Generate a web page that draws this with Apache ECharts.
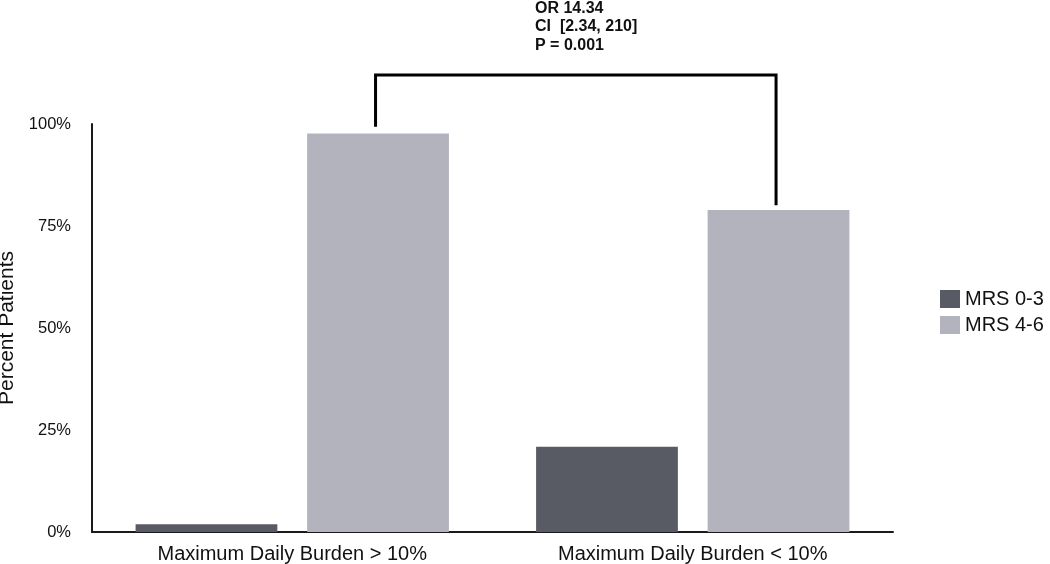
<!DOCTYPE html>
<html>
<head>
<meta charset="utf-8">
<script src="https://cdn.jsdelivr.net/npm/echarts@6/dist/echarts.min.js"></script>
<style>html,body{margin:0;padding:0;background:#fff;}#c{width:1050px;height:564px;}</style>
</head>
<body>
<div id="c"></div>
<script>
const categories = ['Maximum Daily Burden > 10%', 'Maximum Daily Burden < 10%'];
const seriesNames = ['MRS 0-3', 'MRS 4-6'];
const mrs03 = [1.9, 20.9];
const mrs46 = [97.7, 78.9];
const yTicks = [0, 25, 50, 75, 100];
const bracketEnds = [99.3, 80.1];
const bracketTop = 112;
const annotationLines = ['OR 14.34', 'CI  [2.34, 210]', 'P = 0.001'];

const font = '"Liberation Sans", Arial, Helvetica, sans-serif';
const chart = echarts.init(document.getElementById('c'), null, {renderer: 'canvas'});
const option = {
  animation: false,
  backgroundColor: '#fff',
  textStyle: {fontFamily: font},
  grid: {left: 92, right: 157, top: 124, bottom: 32, containLabel: false, outerBoundsMode: 'none'},
  legend: {
    orient: 'vertical', left: 940, top: 289, padding: 0,
    icon: 'rect', itemWidth: 20, itemHeight: 18, itemGap: 6,
    textStyle: {fontSize: 20, color: '#111', fontFamily: font},
    data: seriesNames
  },
  xAxis: {
    type: 'category', data: categories,
    axisLine: {lineStyle: {color: '#1a1a1a', width: 2}},
    axisTick: {show: false},
    axisLabel: {fontSize: 20, color: '#111', margin: 12, fontFamily: font}
  },
  yAxis: {
    type: 'value', min: 0, max: 100, interval: 25,
    name: 'Percent Patients', nameLocation: 'middle', nameGap: 73,
    nameTextStyle: {fontSize: 21, color: '#111', fontFamily: font},
    axisLine: {show: true, lineStyle: {color: '#1a1a1a', width: 2}},
    axisTick: {show: false},
    splitLine: {show: false},
    axisLabel: {fontSize: 16.5, color: '#111', margin: 21, fontFamily: font,
      formatter: v => yTicks.includes(v) ? v + '%' : ''}
  },
  series: [
    {name: seriesNames[0], type: 'bar', data: mrs03, barWidth: '35.4%', barGap: '21%',
     itemStyle: {color: '#585b63'}},
    {name: seriesNames[1], type: 'bar', data: mrs46, barWidth: '35.4%', barGap: '21%',
     itemStyle: {color: '#b3b3bd'}},
    {type: 'custom', silent: true, clip: false, z: 5,
     data: [[0, bracketEnds[0], 1, bracketEnds[1], bracketTop]],
     renderItem: function (params, api) {
       const band = api.size([1, 0])[0];
       const off = band * 0.208;
       const p1 = api.coord([api.value(0), api.value(1)]);
       const p2 = api.coord([api.value(2), api.value(3)]);
       const top = api.coord([api.value(0), api.value(4)])[1];
       return {
         type: 'polyline',
         shape: {points: [[p1[0] + off, p1[1]], [p1[0] + off, top], [p2[0] + off, top], [p2[0] + off, p2[1]]]},
         style: {stroke: '#000', lineWidth: 3, fill: null}
       };
     }
    }
  ],
  graphic: [{
    type: 'text', left: 535, top: -1,
    style: {text: annotationLines.join('\n'), font: 'bold 16px ' + font, fill: '#111', lineHeight: 18.5}
  }]
};
chart.setOption(option);
</script>
</body>
</html>
